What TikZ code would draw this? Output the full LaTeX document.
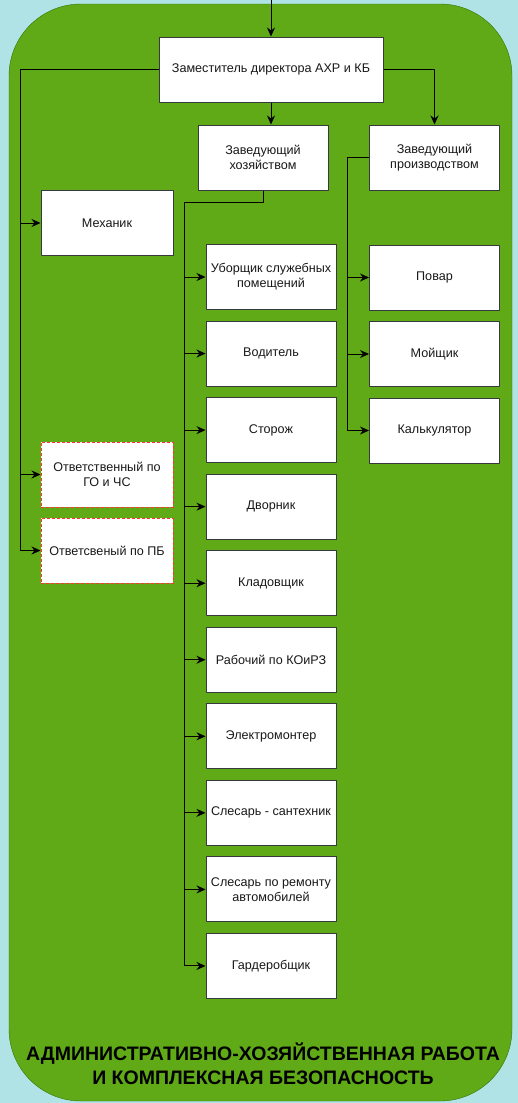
\documentclass[tikz,border=0pt]{standalone}
\usepackage{fontspec}
\setmainfont{Liberation Sans}
\usetikzlibrary{positioning,arrows.meta}
\definecolor{bgcyan}{HTML}{B0E3E6}
\definecolor{zgreen}{HTML}{60A917}
\definecolor{zgreendark}{HTML}{2D7600}
\definecolor{boxline}{HTML}{36393D}
\definecolor{dashred}{HTML}{FF3333}
\tikzset{
	box/.style={draw=boxline, fill=white, line width=1pt, minimum width=130, minimum height=65, inner xsep=1pt, align=center, text=black!90},
	dbox/.style={box, draw=dashred, dash pattern=on 3pt off 2pt},
	link/.style={line width=1pt, ->}
}
\begin{document}
\begin{tikzpicture}[x=1pt, y=-1pt, font=\fontsize{12.6}{15}\selectfont, line join=round, >={Stealth[length=9pt,width=8pt]}]
		\fill[bgcyan] (0,0) rectangle (518,1103);
		\useasboundingbox (0,0) rectangle (518,1103);
		\draw[fill=zgreen, draw=zgreendark, rounded corners=72] (9,4) rectangle (512,1101);
		% top level
		\coordinate (top) at (271,0);
		\node[box, minimum width=224] (dir) at (271,69.5) {Заместитель директора АХР и КБ};
		\node[box] (hoz) at (263,157.5) {Заведующий\\хозяйством};
		\node[box] (proizv) at (434.5,157.5) {Заведующий\\производством};
		% left column
		\node[box, minimum width=132] (mech) at (107,223) {Механик};
		\node[dbox, minimum width=132] (gochs) at (107,474.5) {Ответственный по\\ГО и ЧС};
		\node[dbox, minimum width=132] (pb) at (107,550.5) {Ответсвеный по ПБ};
		% workers
		\foreach \t [count=\i] in {{Уборщик служебных\\помещений},Водитель,Сторож,Дворник,Кладовщик,Рабочий по КОиРЗ,Электромонтер,Слесарь - сантехник,{Слесарь по ремонту\\автомобилей},Гардеробщик}
		\node[box] (w\i) at (271,{277+76.55*(\i-1)}) {\t};
		% kitchen
		\node[box] (povar) at (434.5,277.5) {Повар};
		\node[box] (moy) at (434.5,354) {Мойщик};
		\node[box] (kalk) at (434.5,430.5) {Калькулятор};
		\coordinate (lb) at (20,0);
		\coordinate (hb) at (184,202);
		\coordinate (pbus) at (347,0);
		% connectors
		\draw[link] (top) -- (dir.north);
		\draw[link] (dir.south) -- (dir.south |- hoz.north);
		\draw[link] (dir.east) -| (proizv.north);
		\draw[link] (dir.west) -- (dir.west -| lb) |- (mech.west);
		\draw[link] (dir.west -| lb) |- (gochs.west);
		\draw[link] (dir.west -| lb) |- (pb.west);
		\draw[line width=1pt] (hoz.south) |- (hb);
		\foreach \i in {1,...,10}
		\draw[link] (hb) |- (w\i.west);
		\draw[link] (proizv.west) -- (proizv.west -| pbus) |- (povar.west);
		\foreach \d in {moy,kalk}
		\draw[link] (proizv.west -| pbus) |- (\d.west);
		% caption
		\node[font=\bfseries\fontsize{19.5}{24}\selectfont, align=center] (title) at (263,1064) {АДМИНИСТРАТИВНО-ХОЗЯЙСТВЕННАЯ РАБОТА\\И КОМПЛЕКСНАЯ БЕЗОПАСНОСТЬ};
\end{tikzpicture}
\end{document}
